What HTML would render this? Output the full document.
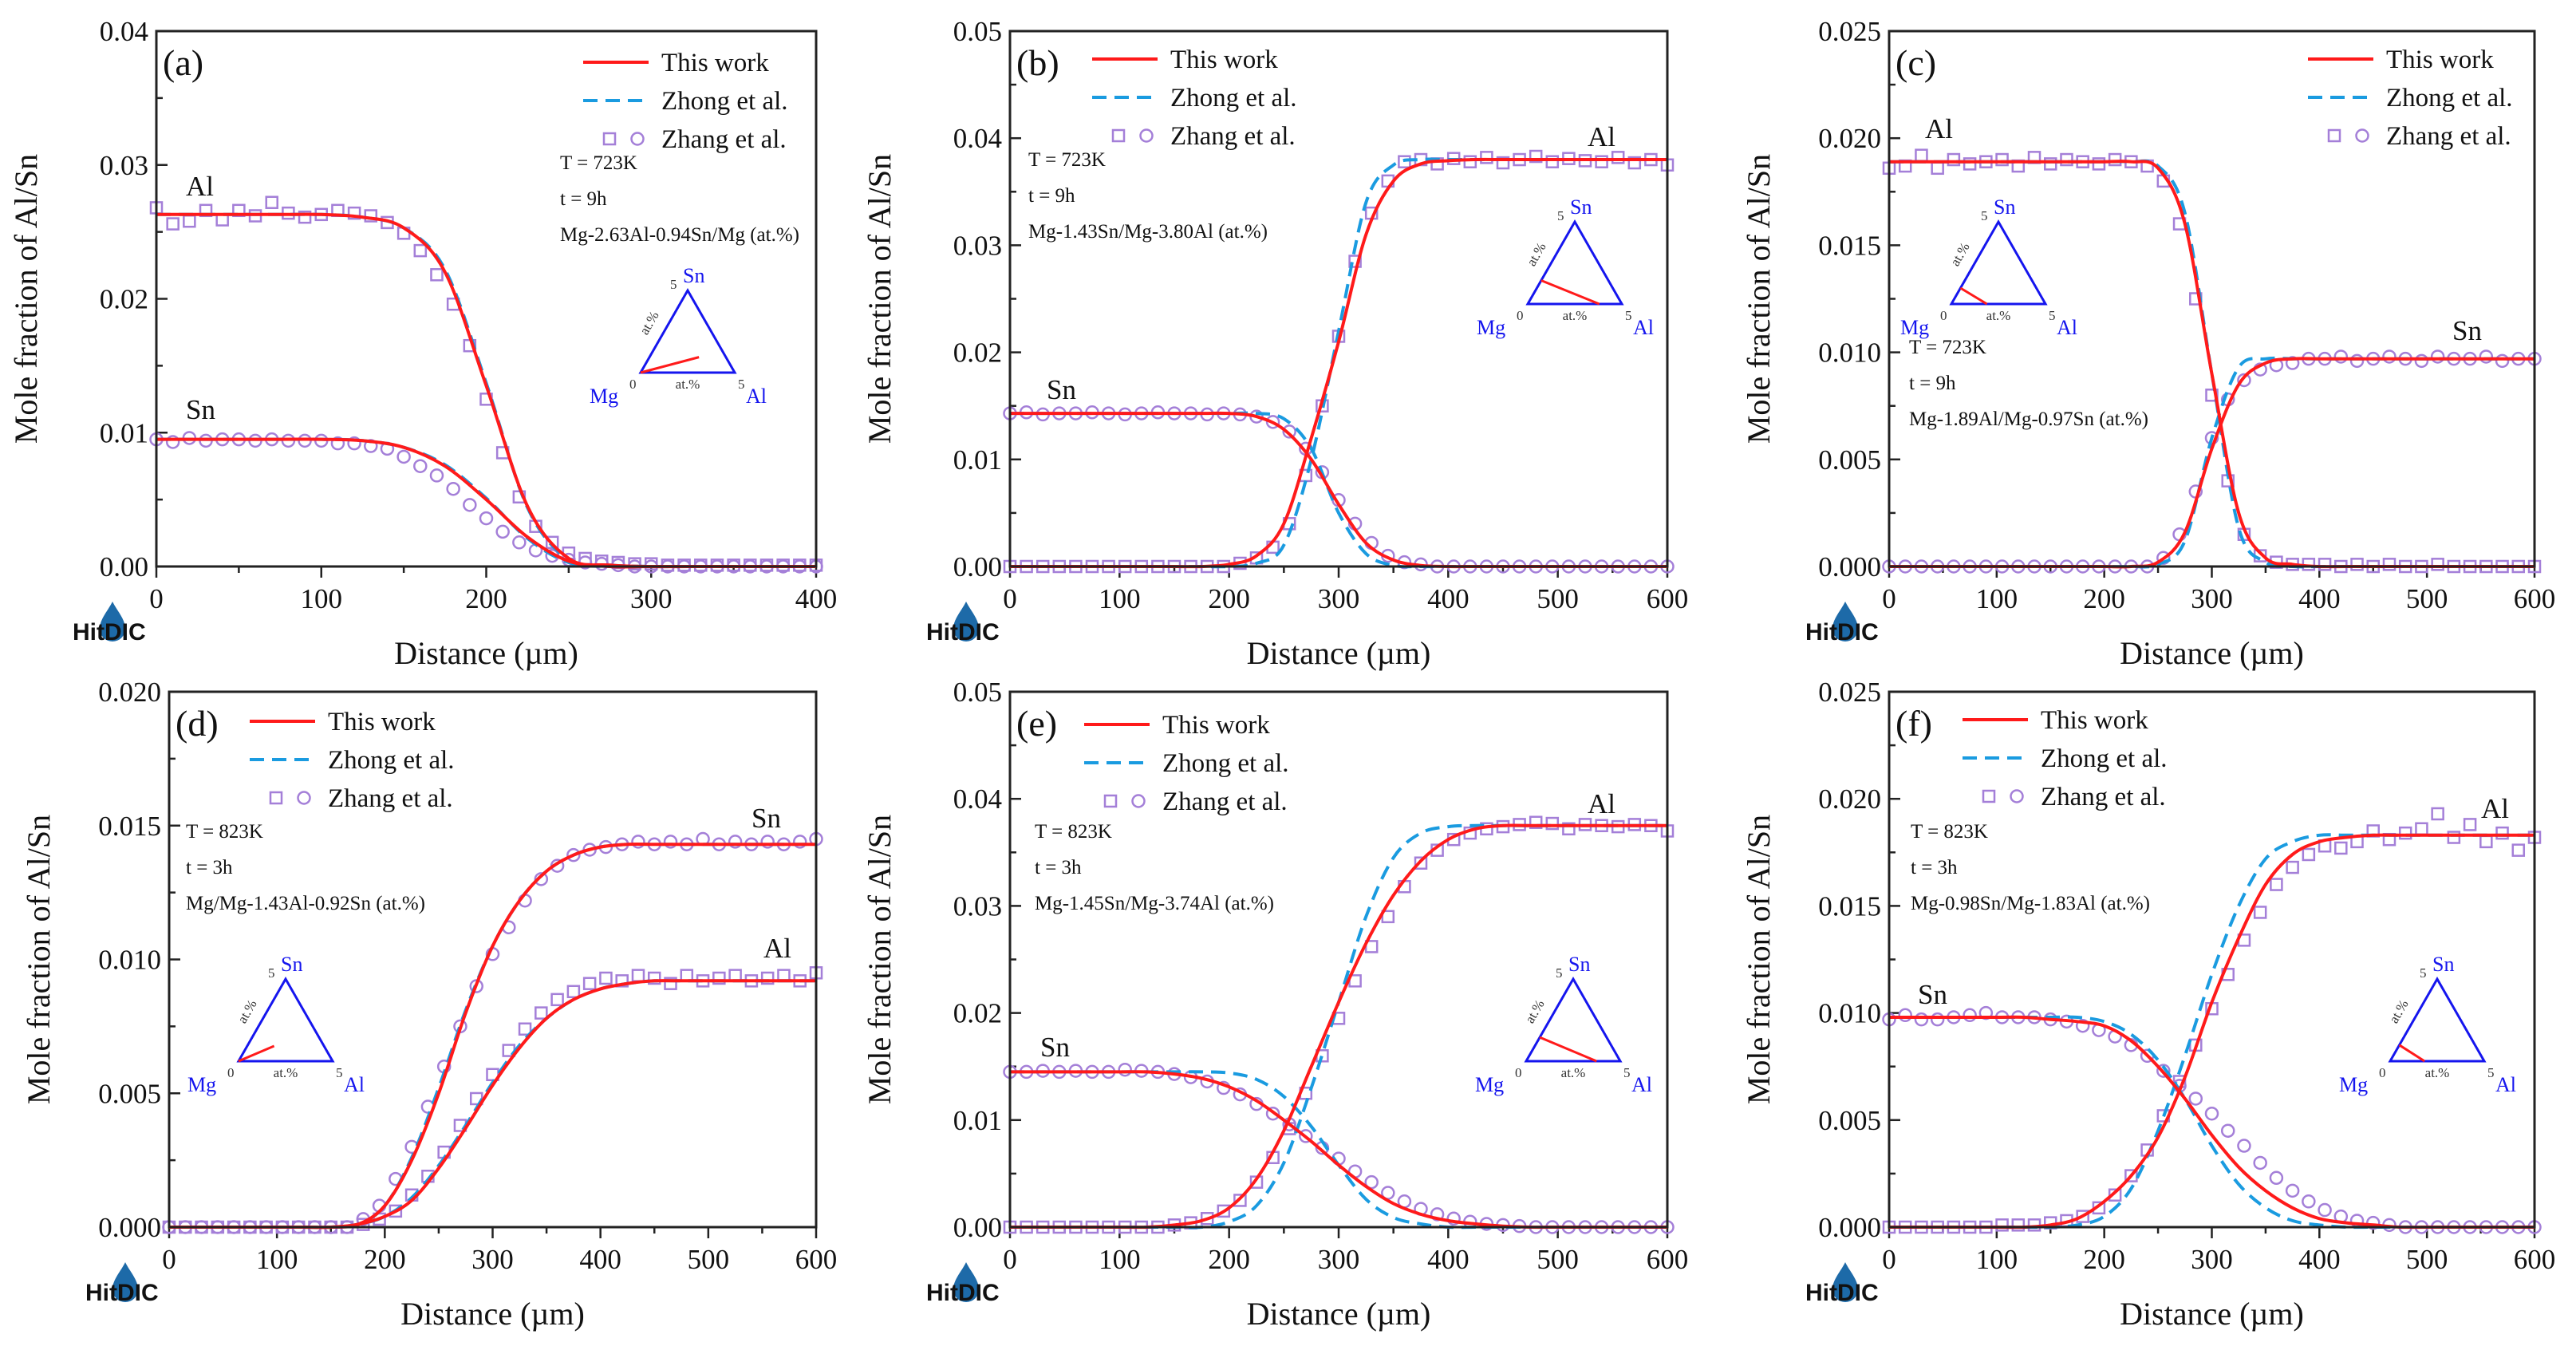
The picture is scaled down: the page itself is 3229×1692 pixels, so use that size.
<!DOCTYPE html>
<html><head><meta charset="utf-8"><style>
html,body{margin:0;padding:0;background:#fff;}
svg{display:block;font-family:"Liberation Serif",serif;}
</style></head><body>
<svg id="fig" width="3229" height="1692" viewBox="0 0 3229 1692" xmlns="http://www.w3.org/2000/svg"></svg>
<script>
// ---- data (mole fraction) ----
// curve x grid: every 25 µm; marker x grid: every 10 µm (a) or 15 µm (others)
const thisAl_a=[0.0263,0.0263,0.0263,0.0263,0.0263,0.0261,0.0253,0.0220,0.0135,0.0045,0.0006,0.0001,0,0,0,0,0];
const thisSn_a=[0.0095,0.0095,0.0095,0.0095,0.0095,0.0094,0.0089,0.0075,0.0050,0.0022,0.0004,0,0,0,0,0,0];
const zhAl_a=[0.0263,0.0263,0.0263,0.0263,0.0263,0.0261,0.0253,0.0222,0.0137,0.0044,0.0005,0.0001,0,0,0,0,0];
const zhSn_a=[0.0095,0.0095,0.0095,0.0095,0.0095,0.0094,0.0089,0.0076,0.0051,0.0021,0.0003,0,0,0,0,0,0];
const expAl_a=[0.0268,0.0256,0.0258,0.0266,0.0259,0.0266,0.0262,0.0272,0.0264,0.0261,0.0263,0.0266,0.0264,0.0262,0.0257,0.0249,0.0236,0.0218,0.0196,0.0165,0.0125,0.0085,0.0052,0.0030,0.0018,0.0010,0.0006,0.0004,0.0003,0.0002,0.0002,0.0001,0.0001,0.0001,0.0001,0.0001,0.0001,0.0001,0.0001,0.0001,0.0001];
const expSn_a=[0.0095,0.0093,0.0096,0.0094,0.0095,0.0095,0.0094,0.0095,0.0094,0.0094,0.0094,0.0092,0.0092,0.0090,0.0088,0.0082,0.0075,0.0068,0.0058,0.0046,0.0036,0.0026,0.0018,0.0012,0.0008,0.0005,0.0003,0.0002,0.0001,0,0,0,0,0,0,0,0,0,0,0,0];

const thisAl_b=[0,0,0,0,0,0,0,0,0.0002,0.0010,0.0040,0.0120,0.0210,0.0310,0.0360,0.0376,0.0379,0.038,0.038,0.038,0.038,0.038,0.038,0.038,0.038];
const thisSn_b=[0.0143,0.0143,0.0143,0.0143,0.0143,0.0143,0.0143,0.0143,0.0143,0.0140,0.0128,0.0100,0.0058,0.0022,0.0006,0.0001,0,0,0,0,0,0,0,0,0];
const zhAl_b=[0,0,0,0,0,0,0,0,0,0.0003,0.0020,0.0100,0.0220,0.0340,0.0375,0.0380,0.038,0.038,0.038,0.038,0.038,0.038,0.038,0.038,0.038];
const zhSn_b=[0.0143,0.0143,0.0143,0.0143,0.0143,0.0143,0.0143,0.0143,0.0143,0.0143,0.0138,0.0110,0.0050,0.0012,0.0001,0,0,0,0,0,0,0,0,0,0];
const expAl_b=[0,0,0,0,0,0,0,0,0,0,0,0,0,0,0.0003,0.0008,0.0018,0.0040,0.0085,0.0150,0.0215,0.0285,0.0330,0.0360,0.0378,0.0380,0.0376,0.0381,0.0378,0.0382,0.0377,0.0380,0.0383,0.0378,0.0381,0.0379,0.0378,0.0382,0.0377,0.0380,0.0375];
const expSn_b=[0.0143,0.0144,0.0142,0.0143,0.0143,0.0144,0.0143,0.0142,0.0143,0.0144,0.0143,0.0143,0.0142,0.0143,0.0142,0.0140,0.0135,0.0126,0.0110,0.0088,0.0062,0.0040,0.0022,0.0010,0.0004,0.0002,0,0,0,0,0,0,0,0,0,0,0,0,0,0,0];

const thisAl_c=[0.0189,0.0189,0.0189,0.0189,0.0189,0.0189,0.0189,0.0189,0.0189,0.0189,0.0186,0.0160,0.0090,0.0025,0.0004,0.0001,0,0,0,0,0,0,0,0,0];
const thisSn_c=[0,0,0,0,0,0,0,0,0,0,0.0002,0.0016,0.0055,0.0085,0.0095,0.0097,0.0097,0.0097,0.0097,0.0097,0.0097,0.0097,0.0097,0.0097,0.0097];
const zhAl_c=[0.0189,0.0189,0.0189,0.0189,0.0189,0.0189,0.0189,0.0189,0.0189,0.0189,0.0187,0.0165,0.0090,0.0018,0.0002,0,0,0,0,0,0,0,0,0,0];
const zhSn_c=[0,0,0,0,0,0,0,0,0,0,0.0001,0.0012,0.0060,0.0093,0.0097,0.0097,0.0097,0.0097,0.0097,0.0097,0.0097,0.0097,0.0097,0.0097,0.0097];
const expAl_c=[0.0186,0.0187,0.0192,0.0186,0.0190,0.0188,0.0189,0.0190,0.0187,0.0191,0.0188,0.0190,0.0189,0.0188,0.0190,0.0189,0.0187,0.0180,0.0160,0.0125,0.0080,0.0040,0.0015,0.0005,0.0002,0.0001,0.0001,0.0001,0,0.0001,0,0.0001,0,0,0.0001,0,0,0,0,0,0];
const expSn_c=[0,0,0,0,0,0,0,0,0,0,0,0,0,0,0,0,0,0.0004,0.0015,0.0035,0.0060,0.0078,0.0087,0.0092,0.0094,0.0095,0.0097,0.0097,0.0098,0.0096,0.0097,0.0098,0.0097,0.0096,0.0098,0.0097,0.0097,0.0098,0.0096,0.0097,0.0097];

const thisSn_d=[0,0,0,0,0,0,0,0.0001,0.0008,0.0025,0.0050,0.0080,0.0105,0.0122,0.0133,0.0139,0.0142,0.0143,0.0143,0.0143,0.0143,0.0143,0.0143,0.0143,0.0143];
const thisAl_d=[0,0,0,0,0,0,0,0.0001,0.0004,0.0010,0.0022,0.0037,0.0053,0.0067,0.0078,0.0085,0.0089,0.0091,0.0092,0.0092,0.0092,0.0092,0.0092,0.0092,0.0092];
const zhSn_d=[0,0,0,0,0,0,0,0.0001,0.0008,0.0026,0.0052,0.0081,0.0105,0.0122,0.0133,0.0139,0.0142,0.0143,0.0143,0.0143,0.0143,0.0143,0.0143,0.0143,0.0143];
const zhAl_d=[0,0,0,0,0,0,0,0.0001,0.0004,0.0011,0.0023,0.0038,0.0054,0.0068,0.0078,0.0085,0.0089,0.0091,0.0092,0.0092,0.0092,0.0092,0.0092,0.0092,0.0092];
const expSn_d=[0,0,0,0,0,0,0,0,0,0,0,0,0.0003,0.0008,0.0018,0.0030,0.0045,0.0060,0.0075,0.0090,0.0102,0.0112,0.0122,0.0130,0.0135,0.0139,0.0141,0.0142,0.0143,0.0144,0.0143,0.0144,0.0143,0.0145,0.0143,0.0144,0.0143,0.0144,0.0143,0.0144,0.0145];
const expAl_d=[0,0,0,0,0,0,0,0,0,0,0,0,0.0001,0.0003,0.0006,0.0012,0.0019,0.0028,0.0038,0.0048,0.0057,0.0066,0.0074,0.0080,0.0085,0.0088,0.0091,0.0093,0.0092,0.0094,0.0093,0.0091,0.0094,0.0092,0.0093,0.0094,0.0092,0.0093,0.0094,0.0092,0.0095];

const thisAl_e=[0,0,0,0,0,0,0.0002,0.0006,0.0018,0.0045,0.0090,0.0150,0.0210,0.0265,0.0310,0.0342,0.0362,0.0372,0.0375,0.0375,0.0375,0.0375,0.0375,0.0375,0.0375];
const thisSn_e=[0.0145,0.0145,0.0145,0.0145,0.0145,0.0145,0.0143,0.0139,0.0131,0.0118,0.0100,0.0080,0.0058,0.0038,0.0022,0.0012,0.0006,0.0003,0.0001,0,0,0,0,0,0];
const zhAl_e=[0,0,0,0,0,0,0,0,0.0005,0.0020,0.0060,0.0130,0.0210,0.0290,0.0345,0.0368,0.0374,0.0375,0.0375,0.0375,0.0375,0.0375,0.0375,0.0375,0.0375];
const zhSn_e=[0.0145,0.0145,0.0145,0.0145,0.0145,0.0145,0.0145,0.0145,0.0144,0.0138,0.0122,0.0094,0.0058,0.0026,0.0009,0.0003,0,0,0,0,0,0,0,0,0];
const expAl_e=[0,0,0,0,0,0,0,0,0,0,0.0002,0.0004,0.0008,0.0015,0.0025,0.0042,0.0065,0.0092,0.0125,0.0160,0.0195,0.0230,0.0262,0.0290,0.0318,0.0340,0.0352,0.0362,0.0368,0.0372,0.0374,0.0376,0.0378,0.0377,0.0372,0.0376,0.0375,0.0374,0.0376,0.0375,0.0370];
const expSn_e=[0.0145,0.0145,0.0146,0.0145,0.0146,0.0145,0.0145,0.0147,0.0146,0.0145,0.0143,0.0140,0.0136,0.0130,0.0124,0.0115,0.0106,0.0096,0.0085,0.0074,0.0064,0.0052,0.0042,0.0032,0.0024,0.0017,0.0012,0.0008,0.0005,0.0003,0.0002,0.0001,0,0,0,0,0,0,0,0,0];

const thisAl_f=[0,0,0,0,0,0,0.0001,0.0004,0.0012,0.0024,0.0042,0.0070,0.0105,0.0135,0.0160,0.0174,0.0180,0.0182,0.0183,0.0183,0.0183,0.0183,0.0183,0.0183,0.0183];
const thisSn_f=[0.0098,0.0098,0.0098,0.0098,0.0098,0.0098,0.0097,0.0096,0.0094,0.0087,0.0075,0.0060,0.0043,0.0028,0.0017,0.0009,0.0004,0.0002,0.0001,0,0,0,0,0,0];
const zhAl_f=[0,0,0,0,0,0,0,0.0001,0.0005,0.0018,0.0045,0.0080,0.0118,0.0150,0.0172,0.0180,0.0183,0.0183,0.0183,0.0183,0.0183,0.0183,0.0183,0.0183,0.0183];
const zhSn_f=[0.0098,0.0098,0.0098,0.0098,0.0098,0.0098,0.0098,0.0098,0.0096,0.0090,0.0078,0.0060,0.0038,0.0020,0.0009,0.0003,0.0001,0,0,0,0,0,0,0,0];
const expAl_f=[0,0,0,0,0,0,0,0.0001,0.0001,0.0001,0.0002,0.0003,0.0005,0.0009,0.0015,0.0024,0.0036,0.0052,0.0068,0.0085,0.0102,0.0118,0.0134,0.0147,0.0160,0.0168,0.0174,0.0178,0.0177,0.0180,0.0185,0.0181,0.0184,0.0186,0.0193,0.0182,0.0188,0.0180,0.0184,0.0176,0.0182];
const expSn_f=[0.0097,0.0099,0.0097,0.0097,0.0098,0.0099,0.0100,0.0098,0.0098,0.0098,0.0097,0.0096,0.0094,0.0092,0.0089,0.0085,0.0080,0.0073,0.0066,0.0060,0.0053,0.0045,0.0038,0.0030,0.0023,0.0017,0.0012,0.0008,0.0005,0.0003,0.0002,0.0001,0,0,0,0,0,0,0,0,0];

const yTicks_a=["0.00","0.01","0.02","0.03","0.04"];
const yTicks_b=["0.00","0.01","0.02","0.03","0.04","0.05"];
const yTicks_c=["0.000","0.005","0.010","0.015","0.020","0.025"];
const yTicks_d=["0.000","0.005","0.010","0.015","0.020"];
const xTicks400=["0","100","200","300","400"];
const xTicks600=["0","100","200","300","400","500","600"];

const NS="http://www.w3.org/2000/svg";
const svg=document.getElementById('fig');
function el(tag,attrs,parent){const e=document.createElementNS(NS,tag);for(const k in attrs)e.setAttribute(k,attrs[k]);(parent||svg).appendChild(e);return e;}
function txt(s,attrs,parent){const e=el('text',attrs,parent);e.textContent=s;return e;}

function smoothPath(pts){
  let d='M'+pts[0][0].toFixed(1)+','+pts[0][1].toFixed(1);
  for(let i=0;i<pts.length-1;i++){
    const p0=pts[Math.max(0,i-1)],p1=pts[i],p2=pts[i+1],p3=pts[Math.min(pts.length-1,i+2)];
    const c1=[p1[0]+(p2[0]-p0[0])/6,p1[1]+(p2[1]-p0[1])/6];
    const c2=[p2[0]-(p3[0]-p1[0])/6,p2[1]-(p3[1]-p1[1])/6];
    d+=' C'+c1[0].toFixed(1)+','+c1[1].toFixed(1)+' '+c2[0].toFixed(1)+','+c2[1].toFixed(1)+' '+p2[0].toFixed(1)+','+p2[1].toFixed(1);
  }
  return d;
}

const RED='#ff1a1a',BLUE='#1a9be0',PURP='#a47fd8',TBLUE='#1515ee';

function panel(P){
  const g=el('g',{});
  
  
  const xs=v=>P.L+(v/P.xmax)*(P.R-P.L);
  const ys=v=>P.B-(v/P.ymax)*(P.B-P.T);
  const ny=P.yt.length-1;
  for(let i=0;i<=ny*2;i++){
    const v=P.ymax*i/(ny*2),y=ys(v),major=i%2===0;
    const t=el('line',{x1:P.L,x2:P.L+(major?14:8),y1:y,y2:y,stroke:'#222','stroke-width':2.5},g);
    
    if(major){const l=txt(P.yt[i/2],{x:P.L-10,y:y+12,'font-size':35,'text-anchor':'end',fill:'#111'},g);
      }
  }
  const nx=P.xt.length-1;
  for(let i=0;i<=nx*2;i++){
    const v=P.xmax*i/(nx*2),x=xs(v),major=i%2===0;
    const t=el('line',{x1:x,x2:x,y1:P.B,y2:P.B+(major?14:8),stroke:'#222','stroke-width':2.5},g);
    
    if(major){const l=txt(P.xt[i/2],{x:x,y:P.B+52,'font-size':35,'text-anchor':'middle',fill:'#111'},g);
      }
  }
  const xt=txt('Distance (µm)',{x:(P.L+P.R)/2,y:P.B+122,'font-size':40,'text-anchor':'middle',fill:'#111'},g);
  
  const yx=P.L-150,yy=(P.T+P.B)/2;
  const yt=txt('Mole fraction of Al/Sn',{x:yx,y:yy,'font-size':40,'text-anchor':'middle',fill:'#111',transform:'rotate(-90 '+yx+' '+yy+')'},g);
  
  const cg=el('g',{},g);
  
  P.expAl.forEach((v,i)=>{const x=xs(i*P.mstep),y=ys(v);
    const m=el('rect',{x:x-7,y:y-7,width:14,height:14,fill:'none',stroke:PURP,'stroke-width':2.5},cg);
    });
  P.expSn.forEach((v,i)=>{const x=xs(i*P.mstep),y=ys(v);
    const m=el('circle',{cx:x,cy:y,r:7.5,fill:'none',stroke:PURP,'stroke-width':2.5},cg);
    });
  function curve(arr,color,dash,name){
    const pts=arr.map((v,i)=>[xs(i*25),ys(v)]);
    const p=el('path',{d:smoothPath(pts),fill:'none',stroke:color,'stroke-width':4},g);
    if(dash)p.setAttribute('stroke-dasharray','18 10');
    
  }
  curve(P.zhAl,BLUE,true,'zhong-al-curve');
  curve(P.zhSn,BLUE,true,'zhong-sn-curve');
  curve(P.thAl,RED,false,'this-work-al-curve');
  curve(P.thSn,RED,false,'this-work-sn-curve');
  const fr=el('rect',{x:P.L,y:P.T,width:P.R-P.L,height:P.B-P.T,fill:'none',stroke:'#222','stroke-width':3},g);
  
  const pl=txt('('+P.id+')',{x:P.L+8,y:P.T+55,'font-size':46,fill:'#111'},g);
  
  const lg=el('g',{},g);
  
  const lx=P.leg[0],ly=P.leg[1];
  el('line',{x1:lx,x2:lx+82,y1:ly,y2:ly,stroke:RED,'stroke-width':4},lg);
  txt('This work',{x:lx+98,y:ly+11,'font-size':33,fill:'#111'},lg);
  el('line',{x1:lx,x2:lx+82,y1:ly+48,y2:ly+48,stroke:BLUE,'stroke-width':4,'stroke-dasharray':'18 10'},lg);
  txt('Zhong et al.',{x:lx+98,y:ly+59,'font-size':33,fill:'#111'},lg);
  el('rect',{x:lx+26,y:ly+89,width:14,height:14,fill:'none',stroke:PURP,'stroke-width':2.5},lg);
  el('circle',{cx:lx+68,cy:ly+96,r:7.5,fill:'none',stroke:PURP,'stroke-width':2.5},lg);
  txt('Zhang et al.',{x:lx+98,y:ly+107,'font-size':33,fill:'#111'},lg);
  const an=P.ann;
  ['T = '+P.T_,'t = '+P.t_,P.comp].forEach((s,i)=>{
    const a=txt(s,{x:an[0],y:an[1]+i*45,'font-size':25,fill:'#111'},g);
    
    });
  P.spec.forEach(s=>{const a=txt(s[0],{x:s[1],y:s[2],'font-size':35,fill:'#111'},g);
    });
  const tg=el('g',{},g);
  
  const M=P.tri,W=118,H=103;
  const A=[M[0]+W,M[1]],S=[M[0]+W/2,M[1]-H];
  const tp=(al,sn)=>[M[0]+al/5*(A[0]-M[0])+sn/5*(S[0]-M[0]),M[1]+sn/5*(S[1]-M[1])];
  el('polygon',{points:[M,A,S].map(p=>p.join(',')).join(' '),fill:'none',stroke:TBLUE,'stroke-width':3},tg);
  const p1=tp(P.red[0],P.red[1]),p2=tp(P.red[2],P.red[3]);
  el('line',{x1:p1[0],y1:p1[1],x2:p2[0],y2:p2[1],stroke:RED,'stroke-width':3},tg);
  txt('Sn',{x:S[0]-6,y:S[1]-10,'font-size':26,fill:TBLUE},tg);
  txt('Mg',{x:M[0]-64,y:M[1]+38,'font-size':26,fill:TBLUE},tg);
  txt('Al',{x:A[0]+14,y:A[1]+38,'font-size':26,fill:TBLUE},tg);
  txt('0',{x:M[0]-14,y:M[1]+20,'font-size':17,fill:'#333'},tg);
  txt('5',{x:A[0]+4,y:A[1]+20,'font-size':17,fill:'#333'},tg);
  txt('5',{x:S[0]-22,y:S[1]-2,'font-size':17,fill:'#333'},tg);
  txt('at.%',{x:M[0]+W/2,y:M[1]+20,'font-size':17,fill:'#333','text-anchor':'middle'},tg);
  const rx=M[0]+W/4-14,ry=M[1]-H/2-8;
  txt('at.%',{x:rx,y:ry,'font-size':17,fill:'#333','text-anchor':'middle',transform:'rotate(-60 '+rx+' '+ry+')'},tg);
  const lgo=el('g',{},g);
  
  const ox=P.L-105,oy=P.B+92;
  el('path',{d:`M${ox+50},${oy-48} C${ox+56},${oy-36} ${ox+66},${oy-26} ${ox+66},${oy-14} A16,16 0 0 1 ${ox+34},${oy-14} C${ox+34},${oy-26} ${ox+44},${oy-36} ${ox+50},${oy-48} Z`,fill:'#1d6aa8'},lgo);
  txt('HitDIC',{x:ox,y:oy,'font-size':30,'font-weight':'bold','font-family':'Liberation Sans, sans-serif',fill:'#111'},lgo);
}

const common400={xmax:400,xt:xTicks400,mstep:10};
const common600={xmax:600,xt:xTicks600,mstep:15};
panel(Object.assign({id:'a',L:196,R:1023,T:39,B:710,ymax:0.04,yt:yTicks_a,thAl:thisAl_a,thSn:thisSn_a,zhAl:zhAl_a,zhSn:zhSn_a,expAl:expAl_a,expSn:expSn_a,
  leg:[731,78],ann:[702,212],T_:'723K',t_:'9h',comp:'Mg-2.63Al-0.94Sn/Mg (at.%)',spec:[['Al',233,245],['Sn',233,525]],tri:[803,467],red:[0,0,2.63,0.94]},common400));
panel(Object.assign({id:'b',L:1266,R:2090,T:39,B:710,ymax:0.05,yt:yTicks_b,thAl:thisAl_b,thSn:thisSn_b,zhAl:zhAl_b,zhSn:zhSn_b,expAl:expAl_b,expSn:expSn_b,
  leg:[1369,74],ann:[1289,208],T_:'723K',t_:'9h',comp:'Mg-1.43Sn/Mg-3.80Al (at.%)',spec:[['Sn',1312,500],['Al',1990,183]],tri:[1915,381],red:[0,1.43,3.80,0]},common600));
panel(Object.assign({id:'c',L:2368,R:3177,T:39,B:710,ymax:0.025,yt:yTicks_c,thAl:thisAl_c,thSn:thisSn_c,zhAl:zhAl_c,zhSn:zhSn_c,expAl:expAl_c,expSn:expSn_c,
  leg:[2893,74],ann:[2393,443],T_:'723K',t_:'9h',comp:'Mg-1.89Al/Mg-0.97Sn (at.%)',spec:[['Al',2413,173],['Sn',3074,426]],tri:[2446,381],red:[1.89,0,0,0.97]},common600));
panel(Object.assign({id:'d',L:212,R:1023,T:867,B:1538,ymax:0.02,yt:yTicks_d,thAl:thisAl_d,thSn:thisSn_d,zhAl:zhAl_d,zhSn:zhSn_d,expAl:expAl_d,expSn:expSn_d,
  leg:[313,904],ann:[233,1050],T_:'823K',t_:'3h',comp:'Mg/Mg-1.43Al-0.92Sn (at.%)',spec:[['Sn',942,1037],['Al',957,1200]],tri:[299,1330],red:[0,0,1.43,0.92]},common600));
panel(Object.assign({id:'e',L:1266,R:2090,T:867,B:1538,ymax:0.05,yt:yTicks_b,thAl:thisAl_e,thSn:thisSn_e,zhAl:zhAl_e,zhSn:zhSn_e,expAl:expAl_e,expSn:expSn_e,
  leg:[1359,908],ann:[1297,1050],T_:'823K',t_:'3h',comp:'Mg-1.45Sn/Mg-3.74Al (at.%)',spec:[['Sn',1304,1324],['Al',1990,1019]],tri:[1913,1330],red:[0,1.45,3.74,0]},common600));
panel(Object.assign({id:'f',L:2368,R:3177,T:867,B:1538,ymax:0.025,yt:yTicks_c,thAl:thisAl_f,thSn:thisSn_f,zhAl:zhAl_f,zhSn:zhSn_f,expAl:expAl_f,expSn:expSn_f,
  leg:[2460,902],ann:[2395,1050],T_:'823K',t_:'3h',comp:'Mg-0.98Sn/Mg-1.83Al (at.%)',spec:[['Sn',2404,1258],['Al',3110,1025]],tri:[2996,1330],red:[0,0.98,1.83,0]},common600));
</script>
</body></html>
